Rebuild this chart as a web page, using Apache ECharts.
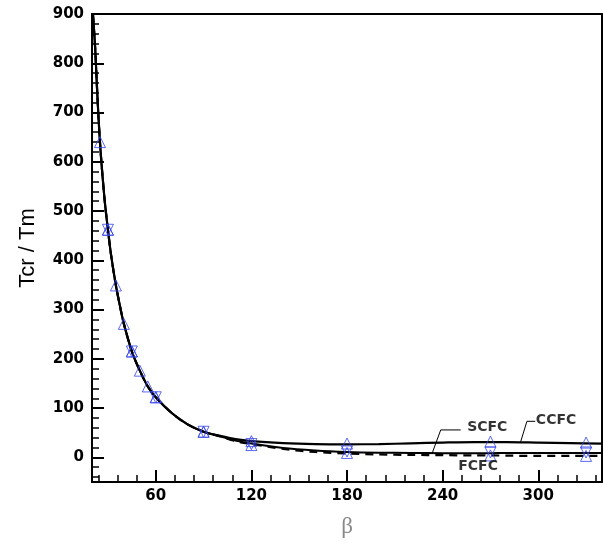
<!DOCTYPE html>
<html>
<head>
<meta charset="utf-8">
<script src="https://cdn.jsdelivr.net/npm/echarts@6/dist/echarts.min.js"></script>
<style>html,body{margin:0;padding:0;background:#fff}#c{width:603px;height:543px}</style>
</head>
<body>
<div id="c"></div>
<script>
// ---- data ----
const beta = [20.6, 22, 23, 24, 25, 26, 28, 30, 32, 35, 38, 40, 45, 50, 55, 60, 70, 80, 90, 100, 110, 120, 140, 160, 180, 200, 220, 240, 260, 270, 280, 300, 320, 340];
const ccfc = [900, 830, 760, 695, 640, 595, 520, 462, 410, 349, 300, 271, 215, 176, 144, 122, 90, 67, 52, 44, 37, 33, 29, 27, 26.5, 27, 28.5, 30, 31, 31, 31, 30, 29, 28];
const scfc = [900, 830, 760, 695, 640, 595, 520, 462, 410, 349, 300, 271, 215, 176, 144, 122, 90, 67, 52, 43, 34, 28, 19, 14, 11, 9.5, 9, 8.5, 8.5, 8.5, 9, 9, 9, 9];
const fcfc = [900, 830, 760, 695, 640, 595, 520, 462, 410, 349, 300, 271, 215, 176, 144, 122, 90, 67, 52, 43, 33, 27, 17, 11, 8, 6, 5, 4.5, 4, 4, 3.5, 3, 3, 3];

const markBetaA = [25, 30, 35, 40, 45, 50, 55, 60, 90, 120, 180, 270, 330];
const markValA  = [640, 462, 349, 271, 215, 176, 144, 122, 52, 33, 28, 32, 30];
const markBetaB = [30, 45, 60, 90, 120, 180, 270, 330];
const markValB  = [462, 215, 122, 52, 27, 12, 10, 10];
const markBetaC = [30, 45, 60, 90, 120, 180, 270, 330];
const markValC  = [462, 215, 122, 52, 25, 9, 4, 3];

const xTickLabels = [60, 120, 180, 240, 300];
const xMinorTicks = [24, 36, 48, 72, 84, 96, 108, 132, 144, 156, 168, 192, 204, 216, 228, 252, 264, 276, 288, 312, 324, 336];
const yTickLabels = [0, 100, 200, 300, 400, 500, 600, 700, 800, 900];
const yMinorTicks = [];
for (const v of [-40, -20]) yMinorTicks.push(v);
for (let i = 0; i < 9; i++) for (const d of [20, 40, 60, 80]) yMinorTicks.push(i * 100 + d);

const curveNames = ['SCFC', 'CCFC', 'FCFC'];
const curveLabelAt = [[255.4, 61], [298.5, 74.6], [249.8, -19]];
const leaderSCFC = [[251.3, 55.7], [238.8, 55.7], [233.5, 9]];
const leaderCCFC = [[298.1, 73.2], [292.9, 73.2], [288.8, 30]];

// ---- chart ----
const zip = (xs, ys) => xs.map((x, i) => [x, ys[i]]);
const FONT = 'DejaVu Sans';
const blue = '#3344ee';
const chart = echarts.init(document.getElementById('c'), null, {renderer: 'canvas'});

const baseX = {type: 'value', min: 20, max: 340, splitLine: {show: false}};
const baseY = {type: 'value', min: -50, max: 900, splitLine: {show: false}};

const markerSeries = (xs, ys, rot) => ({
  type: 'scatter', xAxisIndex: 0, yAxisIndex: 0, data: zip(xs, ys),
  symbol: 'triangle', symbolSize: 11, symbolRotate: rot, silent: true,
  itemStyle: {color: 'rgba(0,0,0,0)', borderColor: blue, borderWidth: 1}, z: 5
});
const leader = (pts) => ({
  type: 'line', data: pts, symbol: 'none', silent: true,
  lineStyle: {color: '#000', width: 1}, z: 4
});

chart.setOption({
  animation: false,
  backgroundColor: '#fff',
  grid: {left: 92, right: 1, top: 14, bottom: 61, containLabel: false, outerBoundsMode: 'none',
         show: true, borderColor: '#000', borderWidth: 2},
  xAxis: [
    Object.assign({}, baseX, {
      position: 'bottom',
      name: 'β', nameLocation: 'middle', nameGap: 33,
      nameTextStyle: {fontFamily: 'Liberation Serif', fontSize: 23, color: '#888'},
      axisLine: {show: true, onZero: false, lineStyle: {color: '#000', width: 2}},
      axisTick: {show: true, inside: true, length: 12, customValues: xTickLabels, lineStyle: {color: '#000', width: 2}},
      axisLabel: {show: true, margin: 7, customValues: xTickLabels, fontFamily: FONT, fontWeight: 'bold', fontSize: 15, color: '#000'}
    }),
    Object.assign({}, baseX, {
      position: 'bottom', offset: 0,
      axisLine: {show: false, onZero: false},
      axisTick: {show: true, inside: true, length: 7, customValues: xMinorTicks, lineStyle: {color: '#000', width: 1.5}},
      axisLabel: {show: false}
    })
  ],
  yAxis: [
    Object.assign({}, baseY, {
      position: 'left',
      name: 'Tcr / Tm', nameLocation: 'middle', nameGap: 53,
      nameTextStyle: {fontFamily: 'Liberation Sans', fontSize: 22, color: '#000'},
      axisLine: {show: true, onZero: false, lineStyle: {color: '#000', width: 2}},
      axisTick: {show: true, inside: true, length: 12, customValues: yTickLabels, lineStyle: {color: '#000', width: 2}},
      axisLabel: {show: true, margin: 8, customValues: yTickLabels, fontFamily: FONT, fontWeight: 'bold', fontSize: 15, color: '#000'}
    }),
    Object.assign({}, baseY, {
      position: 'left', offset: 0,
      axisLine: {show: false, onZero: false},
      axisTick: {show: true, inside: true, length: 7, customValues: yMinorTicks, lineStyle: {color: '#000', width: 1.5}},
      axisLabel: {show: false}
    })
  ],
  series: [
    {name: 'CCFC', type: 'line', data: zip(beta, ccfc), symbol: 'none', smooth: 0.3, silent: true,
     lineStyle: {color: '#000', width: 2.2}, z: 3},
    {name: 'SCFC', type: 'line', data: zip(beta, scfc), symbol: 'none', smooth: 0.3, silent: true,
     lineStyle: {color: '#000', width: 2}, z: 3},
    {name: 'FCFC', type: 'line', data: zip(beta, fcfc), symbol: 'none', smooth: 0.3, silent: true,
     lineStyle: {color: '#000', width: 2.2, type: [8, 6]}, z: 3},
    markerSeries(markBetaA, markValA, 0),
    markerSeries(markBetaB, markValB, 180),
    markerSeries(markBetaC, markValC, 0),
    leader(leaderSCFC),
    leader(leaderCCFC),
    {type: 'scatter', symbolSize: 0, silent: true, z: 6,
     data: curveLabelAt.map((p, i) => ({value: p, name: curveNames[i]})),
     label: {show: true, position: 'right', distance: 0, formatter: '{b}',
             fontFamily: FONT, fontWeight: 'bold', fontSize: 14, color: '#000'}}
  ]
});
</script>
</body>
</html>
